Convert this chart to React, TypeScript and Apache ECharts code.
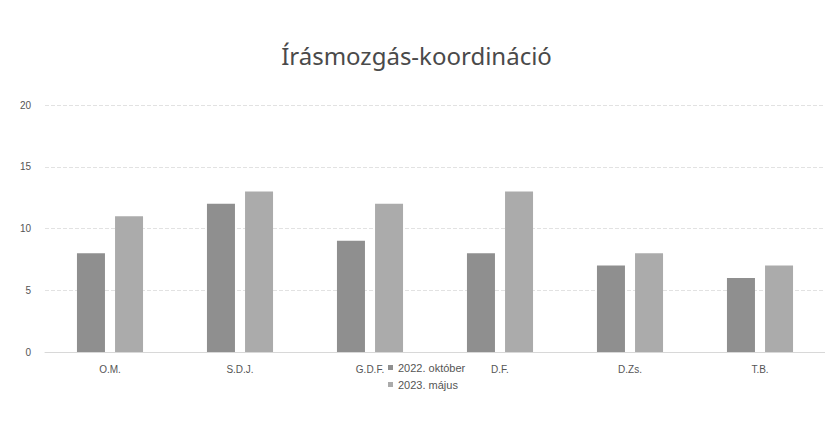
import React, { useEffect, useRef } from "react";
import * as echarts from "echarts";

const categories = ["O.M.", "S.D.J.", "G.D.F.", "D.F.", "D.Zs.", "T.B."];
const seriesNames = ["2022. október", "2023. május"];
const october2022 = [8, 12, 9, 8, 7, 6];
const may2023 = [11, 13, 12, 13, 8, 7];
const yTicks = { min: 0, max: 20, interval: 5 };

export default function App() {
  const ref = useRef<HTMLDivElement>(null);
  useEffect(() => {
    if (!ref.current) return;
    const chart = echarts.init(ref.current, null, { renderer: "svg" });
    chart.setOption({
      animation: false,
      backgroundColor: "#ffffff",
      title: {
        text: "Írásmozgás-koordináció",
        left: "center",
        top: 30,
        padding: [5, 5, 5, 17],
        textStyle: { fontFamily: "Noto Sans", fontSize: 24, fontWeight: "normal", color: "#4a4a4a" },
      },
      legend: {
        orient: "vertical",
        left: 380,
        top: 354,
        padding: 0,
        itemWidth: 5,
        itemHeight: 5,
        itemGap: 6,
        icon: "rect",
        textStyle: { fontFamily: "Liberation Sans", fontSize: 11, color: "#555" },
        data: seriesNames,
      },
      grid: { left: 37, right: 0, top: 97, bottom: 67 },
      xAxis: {
        type: "category",
        data: categories,
        axisLine: { show: true, lineStyle: { color: "#d8d8d8" } },
        axisTick: { show: false },
        axisLabel: { fontFamily: "Liberation Sans", fontSize: 10, color: "#555", margin: 12 },
      },
      yAxis: {
        type: "value",
        min: yTicks.min,
        max: yTicks.max,
        interval: yTicks.interval,
        axisLine: { show: false },
        axisTick: { show: false },
        axisLabel: { fontFamily: "Liberation Sans", fontSize: 10, color: "#555", margin: 14 },
        splitLine: { lineStyle: { color: "#e2e2e2", type: "dashed" } },
      },
      series: [
        {
          name: seriesNames[0],
          type: "bar",
          data: october2022,
          barWidth: 28,
          barGap: "36%",
          itemStyle: { color: "#8f8f8f" },
        },
        {
          name: seriesNames[1],
          type: "bar",
          data: may2023,
          barWidth: 28,
          itemStyle: { color: "#ababab" },
        },
      ],
    });
    return () => chart.dispose();
  }, []);
  return <div ref={ref} style={{ width: 817, height: 411 }} />;
}
